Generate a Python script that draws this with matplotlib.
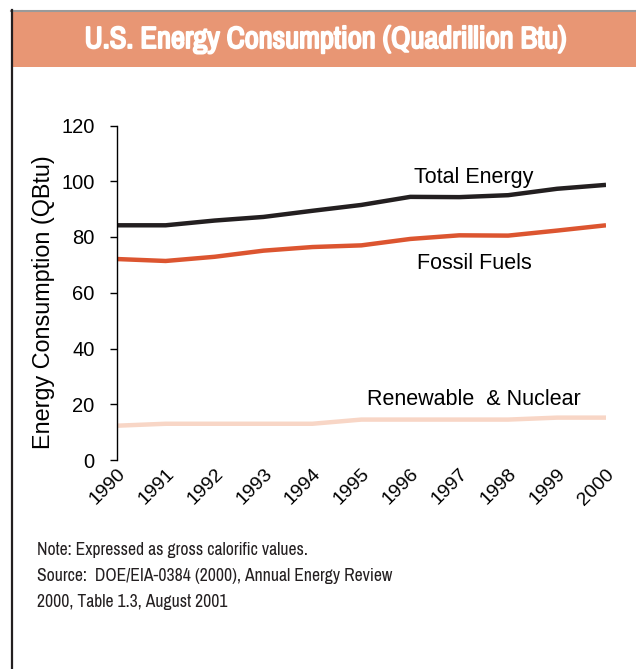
import numpy as np
import matplotlib
matplotlib.use("Agg")
import matplotlib.pyplot as plt
from matplotlib.patches import Rectangle
from matplotlib.lines import Line2D
import matplotlib.transforms as mtransforms
import matplotlib.patheffects as pe
from matplotlib import font_manager

plt.rcParams['font.family'] = ['Liberation Sans', 'DejaVu Sans']

# data (QBtu)
years = [1990, 1991, 1992, 1993, 1994, 1995, 1996, 1997, 1998, 1999, 2000]
total_energy = [84.2, 84.2, 85.9, 87.2, 89.4, 91.5, 94.4, 94.3, 95.0, 97.3, 98.7]
fossil_fuels = [72.1, 71.4, 72.9, 75.1, 76.4, 77.0, 79.3, 80.6, 80.5, 82.3, 84.2]
renew_nuclear = [12.3, 13.0, 13.0, 13.0, 13.0, 14.5, 14.5, 14.5, 14.5, 15.2, 15.2]
y_ticks = [0, 20, 40, 60, 80, 100, 120]

title = "U.S. Energy Consumption (Quadrillion Btu)"
note_lines = ["Note: Expressed as gross calorific values.",
              "Source:  DOE/EIA-0384 (2000), Annual Energy Review",
              "2000, Table 1.3, August 2001"]

# look for a narrow/condensed face for the title and the note
narrow = None
has_bold = False
for f in font_manager.fontManager.ttflist:
    n = f.name.lower()
    if 'narrow' in n or 'condensed' in n:
        narrow = f.name
        break
if narrow:
    for f in font_manager.fontManager.ttflist:
        if f.name == narrow and str(f.weight) in ('700', 'bold', '800', '900', 'heavy', 'black'):
            has_bold = True

W, H = 636, 669
fig = plt.figure(figsize=(W / 100, H / 100), dpi=100)

# frame lines and header band
fig.add_artist(Line2D([11 / W, 1], [1 - 10.5 / H, 1 - 10.5 / H], color='#9a9a9a', lw=1.5))
fig.add_artist(Line2D([11.5 / W, 11.5 / W], [0, 1 - 10 / H], color='#231f20', lw=1.6))
fig.add_artist(Rectangle((12 / W, 1 - 67 / H), 1 - 12 / W, 55 / H,
                         facecolor='#e89674', edgecolor='none'))

if narrow:
    t_fam, t_size, n_fam, n_size = [narrow, 'DejaVu Sans'], 22, [narrow, 'DejaVu Sans'], 12.7
else:
    t_fam, t_size, n_fam, n_size = ['Liberation Sans', 'DejaVu Sans'], 17, ['Liberation Sans', 'DejaVu Sans'], 11
fx = [] if has_bold else [pe.withStroke(linewidth=1.4, foreground='white')]
fig.text(326 / W, 1 - 39 / H, title, color='white', fontsize=t_size, fontweight='bold',
         family=t_fam, ha='center', va='center', path_effects=fx)

ax = fig.add_axes([116.7 / W, 1 - 460 / H, (606 - 116.7) / W, (460 - 125.5) / H])
ax.plot(years, renew_nuclear, color='#f8d6c6', lw=3.2, solid_capstyle='butt')
ax.plot(years, fossil_fuels, color='#dc5530', lw=3.2, solid_capstyle='butt')
ax.plot(years, total_energy, color='#231f20', lw=3.2, solid_capstyle='butt')

ax.set_xlim(1990, 2000)
ax.set_ylim(0, 120)
ax.set_yticks(y_ticks)
ax.set_xticks(years)
ax.set_xticklabels([str(y) for y in years], rotation=45, ha='right', va='top',
                   rotation_mode='anchor', fontsize=14)
off = mtransforms.ScaledTranslation(2 / 100, -6 / 100, fig.dpi_scale_trans)
for lab in ax.get_xticklabels():
    lab.set_transform(lab.get_transform() + off)
ax.tick_params(axis='x', length=0, pad=4)
ax.tick_params(axis='y', length=5, width=1, pad=11, labelsize=14.5, direction='out')
for s in ['top', 'right', 'bottom']:
    ax.spines[s].set_visible(False)
ax.spines['left'].set_linewidth(1)
ax.set_ylabel("Energy Consumption (QBtu)", fontsize=16.8)
ax.yaxis.set_label_coords(-0.127, 0.472)
ax.patch.set_alpha(0)

ax.text(1997.3, 101.4, "Total Energy", fontsize=15.5, ha='center', va='center')
ax.text(1997.3, 70.5, "Fossil Fuels", fontsize=15.5, ha='center', va='center')
ax.text(1997.3, 21.7, "Renewable  & Nuclear", fontsize=15.5, ha='center', va='center')

for i, line in enumerate(note_lines):
    fig.text(37 / W, 1 - (550 + 26 * i) / H, line, fontsize=n_size,
             family=n_fam, ha='left', va='center', color='#231f20')

fig.savefig("out.png", dpi=100, facecolor='white')
